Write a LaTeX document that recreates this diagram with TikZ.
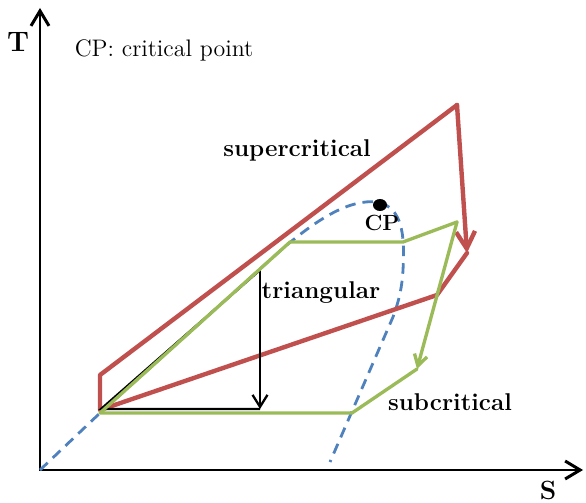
\documentclass[tikz,border=0pt]{standalone}
\usepackage{tikz}
\usetikzlibrary{arrows.meta, positioning, calc}
\definecolor{offred}{HTML}{C0504D}
\definecolor{offgreen}{HTML}{9BBB59}
\definecolor{offblue}{HTML}{4F81BD}

\begin{document}
\begin{tikzpicture}[
    axis/.style={line width=1.7pt, {Straight Barb[length=3mm, width=3.6mm]}-{Straight Barb[length=3mm, width=3.6mm]}},
    superline/.style={offred, line width=2.5pt, line join=round, line cap=round},
    subline/.style={offgreen, line width=1.9pt, line join=round, line cap=round},
    triline/.style={black, line width=1.3pt},
    dome/.style={offblue, line width=1.6pt, dash pattern=on 6pt off 4pt},
    lbl/.style={font=\fontsize{13.8}{16}\selectfont\bfseries}
]
    \useasboundingbox (-0.8, -0.64) rectangle (10.92, 9.4);
    % === Axes ===
    \coordinate (O) at (0, 0);
    \coordinate (Ttop) at (0, 9.24);
    \coordinate (Send) at (10.86, 0);
    \draw[axis] (Ttop) -- (O) -- (Send);
    \node[font=\fontsize{16}{18}\selectfont\bfseries] (tlabel) at (-0.44, 8.56) {T};
    \node[font=\fontsize{15}{17}\selectfont\bfseries] (slabel) at (10.16, -0.4) {S};
    \node[font=\fontsize{13.6}{15}\selectfont] (legend) at (2.48, 8.4) {CP: critical point};
    % === Saturation dome ===
    \draw[dome] (O) -- (1.2, 1.14) -- (4.9, 4.47)
        .. controls (5.6, 5.05) and (6.2, 5.42) .. (6.75, 5.36)
        .. controls (7.25, 5.25) and (7.3, 4.7) .. (7.26, 4.0)
        .. controls (7.24, 3.6) and (7.15, 3.3) .. (7.06, 3.06)
        -- (5.8, 0.16);
    \fill (6.8, 5.3) ellipse [x radius=0.14, y radius=0.12];
    \node[font=\fontsize{12.5}{14}\selectfont\bfseries] (cptxt) at (6.84, 4.94) {CP};
    % === Supercritical cycle ===
    \coordinate (r1) at (1.2, 1.2);
    \coordinate (r2) at (1.2, 1.9);
    \coordinate (r3) at (8.34, 7.3);
    \coordinate (r4) at (8.54, 4.34);
    \coordinate (r5) at (7.94, 3.5);
    \draw[superline] (r4) -- (r5) -- (r1) -- (r2) -- (r3);
    \draw[superline, -{Straight Barb[length=3.4mm, width=3.8mm]}] (r3) -- (r4);
    \node[lbl] (supertxt) at (5.14, 6.4) {supercritical};
    % === Triangular cycle ===
    \coordinate (b1) at (1.22, 1.22);
    \coordinate (b2) at (4.4, 4.0);
    \coordinate (b3) at (4.4, 1.22);
    \draw[triline] (b2) -- (b1) -- (b3);
    \draw[triline, -{Straight Barb[length=2.4mm, width=3mm]}] (b2) -- (b3);
    \node[lbl] (tritxt) at (5.62, 3.54) {triangular};
    % === Subcritical cycle ===
    \coordinate (g1) at (1.2, 1.14);
    \coordinate (g2) at (5.0, 4.56);
    \coordinate (g3) at (7.26, 4.56);
    \coordinate (g4) at (8.34, 4.96);
    \coordinate (g5) at (7.54, 2.02);
    \coordinate (g6) at (6.24, 1.14);
    \draw[subline] (g5) -- (g6) -- (g1) -- (g2) -- (g3) -- (g4);
    \draw[subline, -{Straight Barb[length=2.2mm, width=2.6mm]}] (g4) -- (g5);
    \node[lbl] (subtxt) at (8.2, 1.36) {subcritical};
\end{tikzpicture}
\end{document}
